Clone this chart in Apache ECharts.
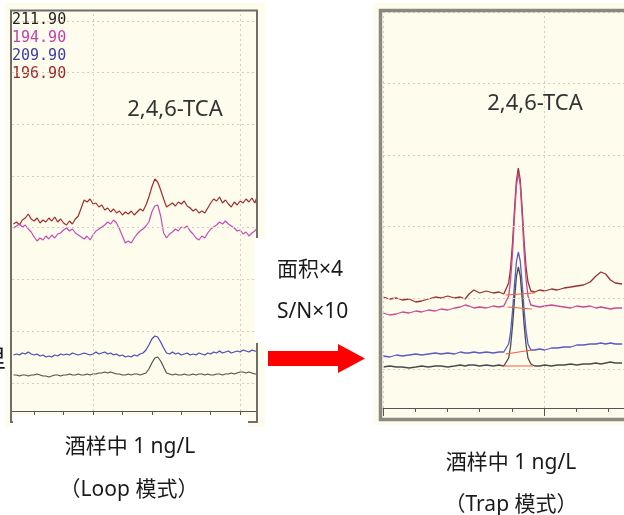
<!DOCTYPE html>
<html>
<head>
<meta charset="utf-8">
<script src="https://cdn.jsdelivr.net/npm/echarts@6/dist/echarts.min.js"></script>
<style>
  html, body { margin: 0; padding: 0; background: #ffffff; }
  #chart { width: 624px; height: 515px; }
</style>
</head>
<body>
<div id="chart"></div>
<script>
// m/z traces of 2,4,6-TCA in wine at 1 ng/L: Loop mode (left) vs Trap mode (right)

const ionNames = ['211.90', '194.90', '209.90', '196.90'];

// ---- Loop mode: scans every 0.01 min starting at 8.73 min ----
const LOOP_SCAN_START = 8.73;
const LOOP_SCAN_STEP = 0.01;
const loop211 = [360,360,350,360,360,350,360,360,370,360, 350,350,340,350,360,360,350,360,360,370,
                 360,360,370,360,360,370,360,370,370,380, 380,390,380,390,380,370,370,360,360,370,
                 360,370,370,360,370,380,420,480,530,540, 500,440,380,370,360,370,360,360,370,360,
                 360,370,360,370,370,360,370,360,360,370, 370,360,370,370,380,370,380,390,390,380,
                 390,380,370,370];
const loop194 = [1830,1850,1870,1840,1860,1820,1790,1740,1700,1730, 1710,1750,1720,1760,1730,1770,1780,1810,1830,1800,
                 1820,1780,1760,1740,1720,1750,1710,1760,1800,1820, 1840,1860,1890,1870,1910,1880,1820,1750,1680,1700,
                 1680,1730,1770,1800,1820,1850,1890,1990,2050,2060, 1950,1780,1730,1770,1790,1820,1800,1840,1830,1850,
                 1800,1770,1730,1710,1750,1730,1780,1820,1840,1860, 1890,1870,1900,1870,1850,1830,1800,1810,1770,1790,
                 1750,1780,1800,1840];
const loop209 = [560,570,560,580,570,590,570,560,570,550, 560,540,550,540,560,550,570,560,570,560,
                 580,570,560,570,580,570,560,570,590,570, 580,590,570,580,560,570,550,560,540,550,
                 540,560,550,570,580,610,660,720,750,740, 690,630,580,570,590,570,580,560,570,580,
                 560,570,560,580,570,560,580,570,590,580, 600,580,590,600,580,590,600,590,610,600,
                 590,610,600,590];
const loop196 = [1870,1890,1860,1910,1930,1970,1920,1900,1930,1880, 1910,1890,1930,1900,1940,1890,1920,1880,1860,1900,
                 1870,1920,1950,2030,2110,2090,2120,2070,2080,2040, 2060,2010,2030,1990,2020,1980,2000,1960,1990,1970,
                 2000,1960,1990,2020,2000,2060,2140,2240,2320,2290, 2210,2120,2040,2060,2080,2050,2090,2070,2100,2050,
                 2030,2000,2020,1980,2000,1980,2030,2080,2120,2100, 2140,2080,2110,2070,2040,2090,2060,2100,2080,2120,
                 2090,2130,2080,2160];

// ---- Trap mode ----
const trapTimes = [10.000,10.021,10.042,10.060,10.081,10.102,10.120,10.141,10.162,10.180,
                   10.201,10.222,10.240,10.255,10.267,10.282,10.300,10.321,10.342,10.360,
                   10.375,10.381,10.390,10.396,10.402,10.408,10.414,10.420,10.426,10.432,
                   10.438,10.444,10.450,10.459,10.471,10.486,10.502,10.523,10.541,10.562,
                   10.583,10.601,10.622,10.643,10.661,10.676,10.691,10.706,10.721,10.742];
const trap211 = [410,420,410,410,400,410,420,410,420,420, 410,420,430,420,430,430,420,430,420,430,
                 420,430,500,620,820,1080,1310,1410,1320,1090, 830,630,500,440,420,420,430,420,430,430,
                 440,430,440,440,450,440,450,460,450,450];
const trap194 = [950,930,940,960,950,970,960,980,970,990, 980,1000,1010,1030,1020,1000,1010,1000,1020,1010,
                 1020,1030,1120,1280,1550,1910,2220,2350,2230,1920, 1560,1290,1120,1030,1020,1010,1020,1030,1020,1010,
                 1000,1020,1010,1020,1000,1010,1000,990,1000,1000];
const trap209 = [520,510,530,520,530,540,530,540,550,540, 550,540,560,550,550,560,550,560,550,560,
                 560,570,640,760,970,1230,1460,1560,1470,1240, 980,770,640,580,580,590,580,600,600,610,
                 610,630,630,640,640,650,640,650,640,640];
const trap196 = [1110,1090,1100,1080,1090,1060,1070,1090,1110,1100, 1120,1100,1110,1090,1140,1180,1150,1170,1150,1160,
                 1140,1160,1250,1400,1650,1980,2270,2400,2280,1990, 1660,1410,1260,1170,1160,1180,1170,1190,1180,1200,
                 1210,1220,1230,1260,1320,1360,1340,1280,1250,1240];

// integration baselines drawn under each Trap-mode peak: [start time, level, end time, level]
const trapBaselines = [
  [10.381, 1130, 10.471, 1150],
  [10.387, 1010, 10.462, 990],
  [10.381, 540, 10.462, 580],
  [10.375, 420, 10.465, 420]
];

// axis ticks and grid lines
const loopTicks = [8.8, 8.9, 9.0, 9.1, 9.2, 9.3, 9.4, 9.5];
const loopGridX = [9.0, 9.5];
const loopGridY = [280, 800, 1320, 1840, 2350, 2870, 3390, 3900];
const trapTicks = [10.0, 10.1, 10.2, 10.3, 10.4, 10.5, 10.6, 10.7];
const trapMajorTicks = [10.0, 10.5];
const trapGridX = [10.0, 10.5];
const trapGridY = [390, 1100, 1820, 2530, 3250, 3960];

const loopColors = ['#555050', '#c24cb4', '#4a4ab4', '#a02c2c'];
const trapColors = ['#4a4a4a', '#c84a96', '#5a5ac8', '#983232'];
const legendColors = ['#1e1e1e', '#c040b0', '#3c3ca8', '#a02828'];

const loopSeriesValues = [loop211, loop194, loop209, loop196];
const trapSeriesValues = [trap211, trap194, trap209, trap196];

const CJK = '"Noto Sans", "Noto Sans CJK SC", sans-serif';

function gridLines(xs, ys) {
  return {
    silent: true,
    symbol: ['none', 'none'],
    label: { show: false },
    lineStyle: { color: '#e2c6c0', type: [2, 3], width: 1 },
    animation: false,
    data: ys.map(v => ({ yAxis: v })).concat(xs.map(v => ({ xAxis: v })))
  };
}

const series = [];
series.push({ type: 'line', xAxisIndex: 0, yAxisIndex: 0, data: [], silent: true, z: 1,
              markLine: gridLines(loopGridX, loopGridY) });
series.push({ type: 'line', xAxisIndex: 1, yAxisIndex: 1, data: [], silent: true, z: 1,
              markLine: gridLines(trapGridX, trapGridY) });

// Loop-mode traces (draw 196.90 / 194.90 first, 209.90 / 211.90 later)
[3, 1, 2, 0].forEach(k => {
  series.push({
    name: ionNames[k], type: 'line', xAxisIndex: 0, yAxisIndex: 0,
    showSymbol: false, silent: true, z: 3,
    lineStyle: { color: loopColors[k], width: 1.2 }, itemStyle: { color: loopColors[k] },
    data: loopSeriesValues[k].map((v, i) => [+(LOOP_SCAN_START + LOOP_SCAN_STEP * i).toFixed(2), v])
  });
});
// Trap-mode traces
[3, 1, 2, 0].forEach(k => {
  series.push({
    name: ionNames[k], type: 'line', xAxisIndex: 1, yAxisIndex: 1,
    showSymbol: false, silent: true, z: 3,
    lineStyle: { color: trapColors[k], width: 1.3 }, itemStyle: { color: trapColors[k] },
    data: trapSeriesValues[k].map((v, i) => [trapTimes[i], v])
  });
});
trapBaselines.forEach(b => {
  series.push({
    type: 'line', xAxisIndex: 1, yAxisIndex: 1, showSymbol: false, silent: true, z: 4,
    lineStyle: { color: '#f0603c', width: 1.2 },
    data: [[b[0], b[1]], [b[2], b[3]]]
  });
});

function textEl(text, x, y, size, align, color) {
  return {
    type: 'text', x: x, y: y, z: 20,
    style: {
      text: text, font: size + 'px ' + CJK, fill: color || '#1a1a1a',
      align: align, verticalAlign: 'middle', textAlign: align, textVerticalAlign: 'middle'
    }
  };
}

const option = {
  backgroundColor: '#ffffff',
  animation: false,
  grid: [
    { left: 12, top: 10, width: 244, height: 401 },
    { left: 383, top: 12, width: 250, height: 396 }
  ],
  xAxis: [
    { gridIndex: 0, type: 'value', min: 8.7248, max: 9.5539, position: 'bottom',
      axisLine: { show: true, lineStyle: { color: '#555', width: 1 } },
      axisTick: { show: true, customValues: loopTicks, length: 4, inside: false, lineStyle: { color: '#555' } },
      axisLabel: { show: false }, splitLine: { show: false } },
    { gridIndex: 1, type: 'value', min: 10.0, max: 10.748, position: 'bottom',
      axisLine: { show: true, lineStyle: { color: '#555', width: 1 } },
      axisTick: { show: true, customValues: trapTicks, length: 4, inside: false, lineStyle: { color: '#555' } },
      axisLabel: { show: false }, splitLine: { show: false } },
    { gridIndex: 1, type: 'value', min: 10.0, max: 10.748, position: 'bottom',
      axisLine: { show: false },
      axisTick: { show: true, customValues: trapMajorTicks, length: 8, inside: false, lineStyle: { color: '#555' } },
      axisLabel: { show: false }, splitLine: { show: false } }
  ],
  yAxis: [
    { gridIndex: 0, type: 'value', min: 0, max: 4010, show: false },
    { gridIndex: 1, type: 'value', min: 0, max: 3960, show: false }
  ],
  legend: {
    orient: 'vertical', left: 7, top: 11, padding: 0,
    icon: 'none', itemWidth: 0, itemHeight: 18, itemGap: 0,
    selectedMode: false,
    textStyle: { fontFamily: '"DejaVu Sans Mono", monospace', fontSize: 15, lineHeight: 18 },
    data: ionNames.map((n, k) => ({ name: n, textStyle: { color: legendColors[k] } }))
  },
  series: series,
  graphic: [
    // panel backgrounds
    { type: 'rect', z: -10, shape: { x: 5, y: 3, width: 260, height: 424 }, style: { fill: '#fefcec' } },
    { type: 'rect', z: -10, shape: { x: 373, y: 3, width: 260, height: 422 }, style: { fill: '#fefcec' } },
    // panel frames
    { type: 'rect', z: 15, shape: { x: 11, y: 10.5, width: 246, height: 411.5 },
      style: { fill: null, stroke: '#6f6e68', lineWidth: 2 } },
    { type: 'rect', z: 15, shape: { x: 380.5, y: 10.5, width: 260, height: 409 },
      style: { fill: null, stroke: '#8b887f', lineWidth: 3.5 } },
    // white caption boxes laid over the panels
    { type: 'rect', z: 16, shape: { x: 13, y: 415, width: 235, height: 20 }, style: { fill: '#ffffff' } },
    { type: 'rect', z: 16, shape: { x: 255, y: 238, width: 12, height: 105 }, style: { fill: '#ffffff' } },
    // labels
    textEl('2,4,6-TCA', 175, 110, 22, 'center', '#333333'),
    textEl('2,4,6-TCA', 535, 104, 22, 'center', '#333333'),
    textEl('面积×4', 277, 270, 21, 'left'),
    textEl('S/N×10', 277, 312, 21, 'left'),
    textEl('酒样中 1 ng/L', 130, 447, 21, 'center'),
    textEl('（Loop 模式）', 129, 490, 21, 'center'),
    textEl('酒样中 1 ng/L', 511, 463, 21, 'center'),
    textEl('（Trap 模式）', 511, 505, 21, 'center'),
    textEl('里', -18, 360, 24, 'left'),
    // arrow
    { type: 'polygon', z: 20,
      shape: { points: [[268, 351], [338, 351], [338, 344], [365, 358.5], [338, 373], [338, 366], [268, 366]] },
      style: { fill: '#ff0000' } }
  ]
};

const chart = echarts.init(document.getElementById('chart'), null, { renderer: 'canvas' });
chart.setOption(option);
</script>
</body>
</html>
